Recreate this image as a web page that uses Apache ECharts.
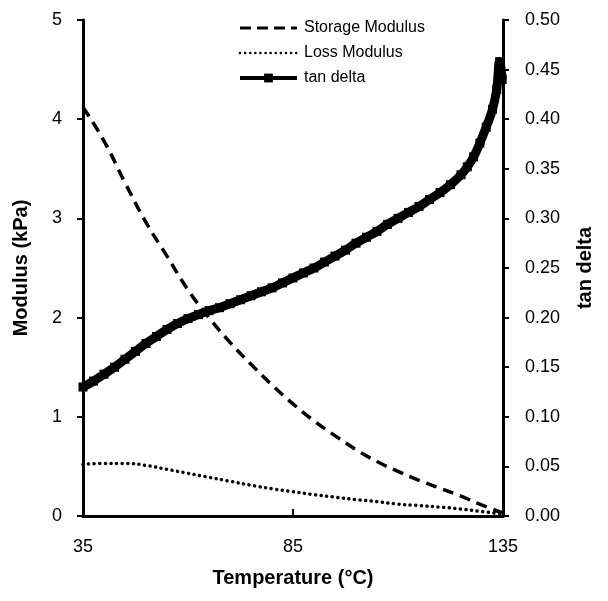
<!DOCTYPE html>
<html>
<head>
<meta charset="utf-8">
<script src="https://cdn.jsdelivr.net/npm/echarts@6/dist/echarts.min.js"></script>
<style>
  html, body { margin: 0; padding: 0; background: #fff; }
  #chart { width: 608px; height: 601px; }
</style>
</head>
<body>
<div id="chart"></div>
<script>
// temperature steps for the modulus curves (°C)
var temps = [35, 40, 45, 50, 55, 60, 65, 70, 75, 80, 85, 90, 95, 100, 105, 110, 115, 120, 125, 130, 135]
// kPa, left axis
var storageModulus = [4.12, 3.78, 3.36, 2.96, 2.62, 2.28, 2.00, 1.75, 1.53, 1.32, 1.13, 0.96, 0.81, 0.67, 0.55, 0.45, 0.36, 0.28, 0.20, 0.11, 0.03]
var lossModulus = [0.52, 0.53, 0.53, 0.51, 0.47, 0.43, 0.39, 0.35, 0.31, 0.275, 0.245, 0.215, 0.19, 0.165, 0.145, 0.12, 0.105, 0.09, 0.07, 0.045, 0.02]
// tan delta, right axis
var tanTemps = [35, 37.5, 40, 42.5, 45, 47.5, 50, 52.5, 55, 57.5, 60, 62.5, 65, 67.5, 70, 72.5, 75, 77.5, 80, 82.5, 85, 87.5, 90, 92.5, 95, 97.5, 100, 102.5, 105, 107.5, 110, 112.5, 115, 117.5, 120, 122.5, 125, 126.5, 128, 129.5, 131, 132.5, 133.5, 134.2, 134.8]
var tanDelta = [0.130, 0.136, 0.143, 0.150, 0.158, 0.166, 0.174, 0.181, 0.188, 0.194, 0.199, 0.203, 0.207, 0.210, 0.214, 0.218, 0.222, 0.226, 0.230, 0.235, 0.240, 0.245, 0.250, 0.256, 0.262, 0.268, 0.275, 0.281, 0.287, 0.294, 0.300, 0.306, 0.312, 0.319, 0.326, 0.334, 0.344, 0.352, 0.362, 0.376, 0.392, 0.410, 0.430, 0.458, 0.440]
var xTicks = [35, 85, 135]

function pairs (xs, ys) {
  return xs.map(function (x, i) { return [x, ys[i]] })
}

var font = 'Liberation Sans, Arial, sans-serif'
var chart = echarts.init(document.getElementById('chart'))
chart.setOption({
  animation: false,
  color: ['#000'],
  grid: { left: 83, right: 105, top: 20, bottom: 85 },
  legend: {
    orient: 'vertical',
    left: 238,
    top: 20,
    padding: 0,
    itemWidth: 57,
    itemHeight: 11,
    itemGap: 9,
    textStyle: { fontFamily: font, fontSize: 16, lineHeight: 16, color: '#000', padding: [0, 0, 0, 2] },
    data: [
      { name: 'Storage Modulus', itemStyle: { opacity: 0 }, lineStyle: { width: 3, type: [11, 6] } },
      { name: 'Loss Modulus', itemStyle: { opacity: 0 }, lineStyle: { width: 2.5, type: [0.1, 5], cap: 'round' } },
      { name: 'tan delta', lineStyle: { width: 4 } }
    ]
  },
  xAxis: {
    type: 'value',
    min: xTicks[0],
    max: xTicks[2],
    interval: xTicks[1] - xTicks[0],
    name: 'Temperature (°C)',
    nameLocation: 'middle',
    nameGap: 52,
    nameTextStyle: { fontFamily: font, fontSize: 20, fontWeight: 'bold', color: '#000' },
    axisLine: { lineStyle: { color: '#000', width: 3 } },
    axisTick: { inside: true, length: 7, lineStyle: { color: '#000', width: 2 } },
    axisLabel: { margin: 22, fontFamily: font, fontSize: 18, color: '#000' },
    splitLine: { show: false }
  },
  yAxis: [{
    type: 'value',
    min: 0,
    max: 5,
    interval: 1,
    position: 'left',
    name: 'Modulus (kPa)',
    nameLocation: 'middle',
    nameRotate: 90,
    nameGap: 52,
    nameTextStyle: { fontFamily: font, fontSize: 20, fontWeight: 'bold', color: '#000' },
    axisLine: { show: true, lineStyle: { color: '#000', width: 3 } },
    axisTick: { show: true, length: 6, lineStyle: { color: '#000', width: 2 } },
    axisLabel: { margin: 21, fontFamily: font, fontSize: 18, color: '#000' },
    splitLine: { show: false }
  }, {
    type: 'value',
    min: 0,
    max: 0.5,
    interval: 0.05,
    position: 'right',
    name: 'tan delta',
    nameLocation: 'middle',
    nameRotate: 90,
    nameGap: 72,
    nameTextStyle: { fontFamily: font, fontSize: 20, fontWeight: 'bold', color: '#000' },
    axisLine: { show: true, lineStyle: { color: '#000', width: 3 } },
    axisTick: { show: true, length: 6, lineStyle: { color: '#000', width: 2 } },
    axisLabel: {
      margin: 22,
      fontFamily: font,
      fontSize: 18,
      color: '#000',
      formatter: function (v) { return v.toFixed(2) }
    },
    splitLine: { show: false }
  }],
  series: [{
    name: 'Storage Modulus',
    type: 'line',
    yAxisIndex: 0,
    symbol: 'none',
    smooth: true,
    lineStyle: { color: '#000', width: 3.5, type: [11, 7] },
    data: pairs(temps, storageModulus)
  }, {
    name: 'Loss Modulus',
    type: 'line',
    yAxisIndex: 0,
    symbol: 'none',
    smooth: true,
    lineStyle: { color: '#000', width: 3.5, type: [0.1, 5.5], cap: 'round' },
    data: pairs(temps, lossModulus)
  }, {
    name: 'tan delta',
    type: 'line',
    yAxisIndex: 1,
    symbol: 'rect',
    symbolSize: 9,
    showSymbol: true,
    smooth: true,
    z: 5,
    itemStyle: { color: '#000' },
    lineStyle: { color: '#000', width: 9 },
    data: pairs(tanTemps, tanDelta)
  }]
})
</script>
</body>
</html>
